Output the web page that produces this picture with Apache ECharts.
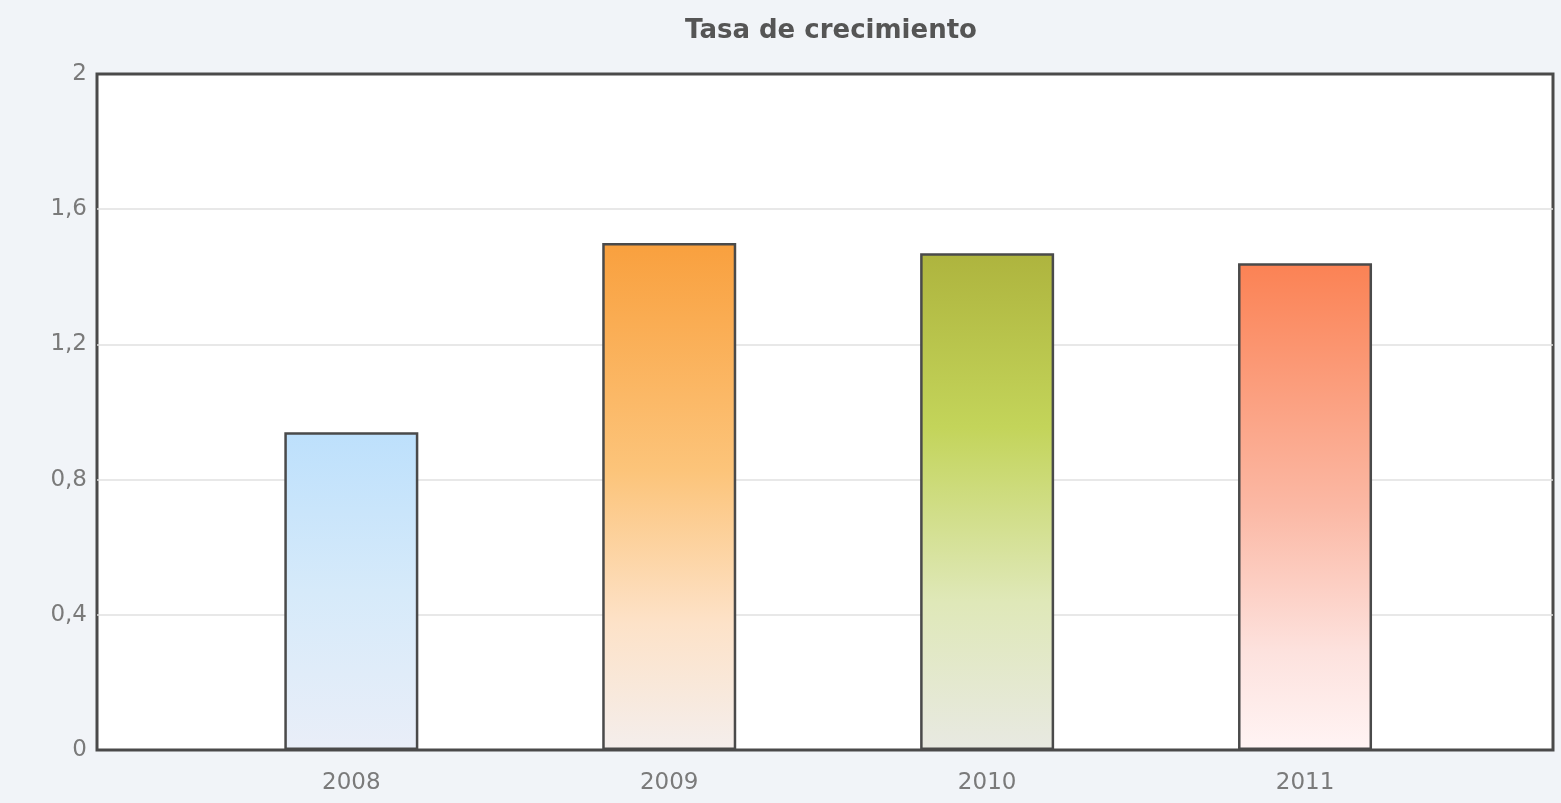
<!DOCTYPE html>
<html>
<head>
<meta charset="utf-8">
<title>Tasa de crecimiento</title>
<script src="https://cdn.jsdelivr.net/npm/echarts@6/dist/echarts.min.js"></script>
<style>
  html, body { margin: 0; padding: 0; background: #f1f4f8; }
  #chart { width: 1561px; height: 803px; }
</style>
</head>
<body>
<div id="chart"></div>
<script>
// Years on the horizontal axis
const years = ['2008', '2009', '2010', '2011'];
// Growth rate per year
const growthRates = [0.94, 1.50, 1.47, 1.44];
// Value-axis ticks
const yTicks = [0, 0.4, 0.8, 1.2, 1.6, 2];

// Vertical gradient for each bar (top colour → bottom colour)
const barPalette = [
  [[0, '#bde0fc'], [0.5, '#d6eafa'], [1, '#e9eef8']],
  [[0, '#f9a03e'], [0.45, '#fcc47a'], [0.75, '#fde2c8'], [1, '#f4eeec']],
  [[0, '#aeb43e'], [0.35, '#c3d45a'], [0.7, '#dfe8b8'], [1, '#e8e9e2']],
  [[0, '#fb8254'], [0.5, '#fbb8a4'], [0.8, '#fde2de'], [1, '#fff4f4']]
];

function gradient(stops) {
  return new echarts.graphic.LinearGradient(0, 0, 0, 1,
    stops.map(s => ({ offset: s[0], color: s[1] })));
}

const chart = echarts.init(document.getElementById('chart'), null, { renderer: 'canvas' });

chart.setOption({
  backgroundColor: '#f1f4f8',
  animation: false,
  title: {
    text: 'Tasa de crecimiento',
    left: 680,
    top: 13,
    textStyle: {
      fontFamily: 'DejaVu Sans',
      fontWeight: 'bold',
      fontSize: 26,
      color: '#555555'
    }
  },
  grid: {
    show: true,
    left: 97,
    right: 8,
    top: 74,
    bottom: 53,
    backgroundColor: '#ffffff',
    borderColor: '#4a4a4a',
    borderWidth: 3
  },
  xAxis: {
    type: 'value',
    min: -0.8,
    max: 3.78,
    splitLine: { show: false },
    axisLine: { show: false },
    axisTick: { show: false },
    axisLabel: {
      customValues: years.map((_, i) => i),
      formatter: v => years[Math.round(v)] || '',
      color: '#7a7a7a',
      fontFamily: 'DejaVu Sans',
      fontSize: 23,
      margin: 22
    }
  },
  yAxis: {
    type: 'value',
    min: yTicks[0],
    max: yTicks[yTicks.length - 1],
    interval: 0.4,
    axisLine: { show: false },
    axisTick: { show: false },
    splitLine: {
      showMinLine: false,
      showMaxLine: false,
      lineStyle: { color: '#e0e0e0', width: 1.5 }
    },
    axisLabel: {
      formatter: v => String(+v.toFixed(1)).replace('.', ','),
      color: '#7a7a7a',
      fontFamily: 'DejaVu Sans',
      fontSize: 23,
      margin: 10
    }
  },
  series: [{
    type: 'bar',
    barWidth: 134,
    data: growthRates.map((v, i) => ({
      value: [i, v],
      itemStyle: {
        color: gradient(barPalette[i]),
        borderColor: '#4a4a4a',
        borderWidth: 2.5
      }
    }))
  }]
});
</script>
</body>
</html>
